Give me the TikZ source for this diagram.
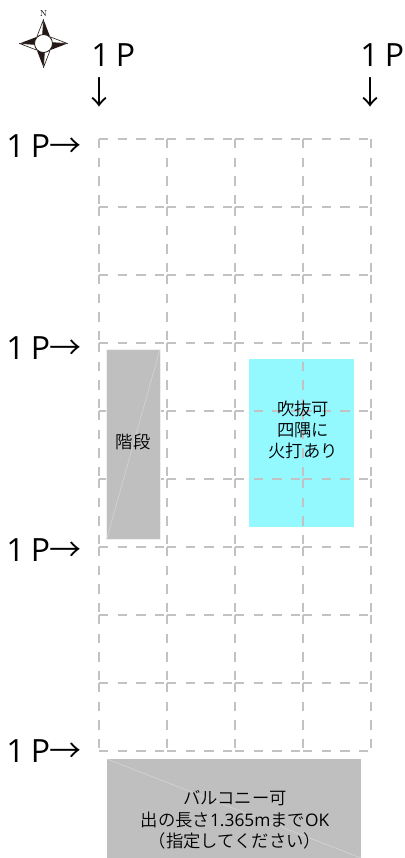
\documentclass[tikz,border=0pt]{standalone}
\usepackage{fontspec}
\setmainfont{Open Sans}
\newfontfamily\jpfont{Noto Sans CJK JP DemiLight}
\definecolor{compassink}{HTML}{231815}
\definecolor{voidcyan}{HTML}{94F8FF}
\tikzset{
	gridline/.style={draw=black!24,line width=0.95pt,dash pattern=on 7pt off 7pt},
	graybox/.style={fill=black!25,draw=black!6,line width=0.6pt},
	graydiag/.style={draw=black!15,line width=0.35pt},
	onep/.style={font=\fontsize{24}{24}\selectfont,inner sep=0pt,anchor=west},
	downarrow/.style={font=\jpfont\fontsize{24}{24}\selectfont,inner sep=0pt},
	jplabel/.style={font=\jpfont\fontsize{13}{16}\selectfont,align=center,inner sep=0pt}
}
\begin{document}
\begin{tikzpicture}[x=0.75pt,y=-0.75pt,line join=round]
	\useasboundingbox (0,0) rectangle (404,858);
	%void
	\fill[fill=voidcyan] (249,359) rectangle (354,527);
	\foreach \x in {99,167,235,303}
		\foreach \y in {139,207,275,343,411,479,547,615,683,751}
			\draw[gridline] (\x,\y)--++(68,0);
	\foreach \x in {99,167,235,303,371}
		\foreach \y in {139,207,275,343,411,479,547,615,683}
			\draw[gridline] (\x,\y)--++(0,68);
	%stairs
	\draw[graybox] (106.7,349) rectangle (160,539);
	\draw[graydiag] (160,349)--(106.7,539);
	\node[jplabel] (kaidan) at (133,442) {階段};
	\node[jplabel] (fukinuke) at (303,430) {吹抜可\\四隅に\\火打あり};
	%balcony
	\fill[black!25] (107,759) rectangle (361,858);
	\draw[graydiag] (107,759)--(361,858);
	\node[jplabel] (balcony) at (235,820) {バルコニー可\\出の長さ{\rmfamily 1.365m}まで{\rmfamily OK}\\（指定してください）};
	%1P marks
	\node[onep] (pa) at (91,55) {1\kern-1.5pt{} P};
	\node[onep] (pb) at (360,55) {1\kern-1.5pt{} P};
	\node[downarrow] (da) at (99,92) {↓};
	\node[downarrow] (db) at (370,92) {↓};
	\foreach \y/\n in {146/a,348/b,550/c,751/d}
		\node[onep] (r\n) at (6,\y) {1\kern-1.5pt{} P\kern-0.5pt\jpfont→};
	%compass
	\foreach \r in {0,90,180,270}{
		\begin{scope}[shift={(43.5,43.5)},rotate=\r]
			\fill[compassink] (0,-24)--(6.5,-7)--(-1,-8)--cycle;
			\draw[compassink,line width=0.45pt,fill=white] (-6.5,-7)--(0,-24)--(-1,-8)--cycle;
		\end{scope}
	}
	\draw[compassink,line width=0.6pt,fill=white] (43.5,43.5) circle (9);
	\node[font=\fontfamily{lmr}\fontsize{6.5}{7}\selectfont,inner sep=0pt] (north) at (43.5,14) {N};
\end{tikzpicture}
\end{document}
